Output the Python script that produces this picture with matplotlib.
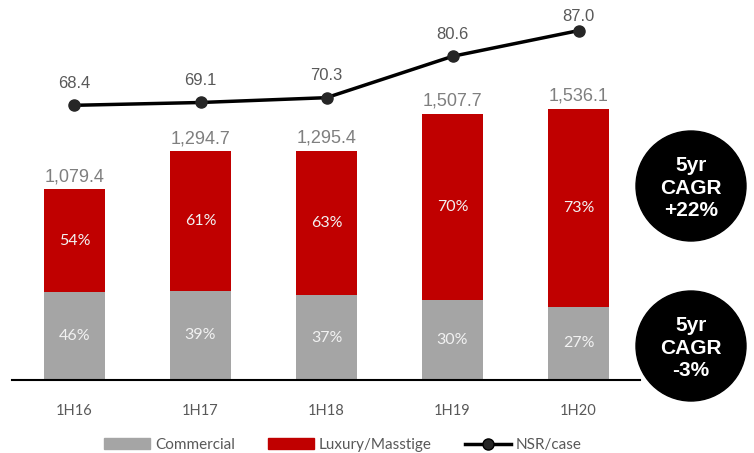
import matplotlib
matplotlib.use("Agg")
import matplotlib.pyplot as plt
from matplotlib.patches import Patch, Circle
from matplotlib.lines import Line2D

# data
periods = ["1H16", "1H17", "1H18", "1H19", "1H20"]
totals = [1079.4, 1294.7, 1295.4, 1507.7, 1536.1]
commercial_pct = [46, 39, 37, 30, 27]
luxury_pct = [54, 61, 63, 70, 73]
nsr_case = [68.4, 69.1, 70.3, 80.6, 87.0]
cagr_labels = ["5yr\nCAGR\n+22%", "5yr\nCAGR\n-3%"]

RED = "#c00000"
GREY = "#a5a5a5"
TXT = "#595959"

W, H = 754, 453
fig = plt.figure(figsize=(W / 100, H / 100), dpi=100)

# main axes in pixel coords: x 12..640, baseline at y=380, top at y=0
ax = fig.add_axes([12 / W, (H - 380) / H, 628 / W, 380 / H])
ax2 = ax.twinx()

x = list(range(len(periods)))
comm = [t * p / 100 for t, p in zip(totals, commercial_pct)]
lux = [t - c for t, c in zip(totals, comm)]

bw = 0.484
ax.bar(x, comm, width=bw, color=GREY, zorder=2)
ax.bar(x, lux, width=bw, bottom=comm, color=RED, zorder=2)

for i in x:
    ax.text(i, comm[i] / 2, f"{commercial_pct[i]}%", ha="center", va="center",
            color="#f2f2f2", fontsize=11.5, family="Lato")
    ax.text(i, comm[i] + lux[i] / 2, f"{luxury_pct[i]}%", ha="center", va="center",
            color="#f2f2f2", fontsize=11.5, family="Lato")
    ax.annotate(f"{totals[i]:,.1f}", (i, totals[i]), xytext=(0, 3),
                textcoords="offset points", ha="center", va="bottom",
                color="#7f7f7f", fontsize=13, family="Liberation Sans")

ax.set_xlim(-0.496, 4.488)
ax.set_ylim(0, 380 / 0.1767)

ax2.plot(x, nsr_case, color="black", lw=2.5, marker="o", markersize=8,
         markerfacecolor="#262626", markeredgecolor="#262626", zorder=3)
ax2.set_ylim(0, 380 / 4.016)
for i in x:
    dy = 10 if i == len(x) - 1 else 16
    ax2.annotate(f"{nsr_case[i]:.1f}", (i, nsr_case[i]), xytext=(0, dy),
                 textcoords="offset points", ha="center", va="center",
                 color=TXT, fontsize=12, family="Liberation Sans")

for a in (ax, ax2):
    for s in ("top", "right", "left"):
        a.spines[s].set_visible(False)
    a.set_yticks([])
ax.spines["bottom"].set_color("black")
ax.spines["bottom"].set_linewidth(1.5)
ax2.spines["bottom"].set_visible(False)
ax.set_xticks(x)
ax.set_xticklabels(periods, color=TXT, fontsize=10.5, family="Lato")
ax.tick_params(axis="x", length=0, pad=17)

# CAGR bubbles, drawn on a full-figure overlay in pixel units
ov = fig.add_axes([0, 0, 1, 1], facecolor="none")
ov.set_xlim(0, W)
ov.set_ylim(H, 0)
ov.axis("off")
for (cx, cy), lab in zip([(691, 186), (691, 346)], cagr_labels):
    ov.add_patch(Circle((cx, cy), 55, color="black"))
    ov.text(cx, cy + 2, lab, ha="center", va="center", color="white",
            fontsize=15, fontweight="bold", family="Liberation Sans",
            linespacing=1.25)

handles = [Patch(color=GREY), Patch(color=RED),
           Line2D([], [], color="black", lw=2.5, marker="o", markersize=8,
                  markerfacecolor="#262626")]
fig.legend(handles, ["Commercial", "Luxury/Masstige", "NSR/case"], ncol=3,
           loc="center", bbox_to_anchor=(343 / W, 1 - 445 / H), frameon=False,
           prop={"family": "Lato", "size": 11}, labelcolor=TXT,
           handlelength=3, handleheight=0.7, handletextpad=0.3, columnspacing=2.2)

fig.savefig("out.png", dpi=100)
